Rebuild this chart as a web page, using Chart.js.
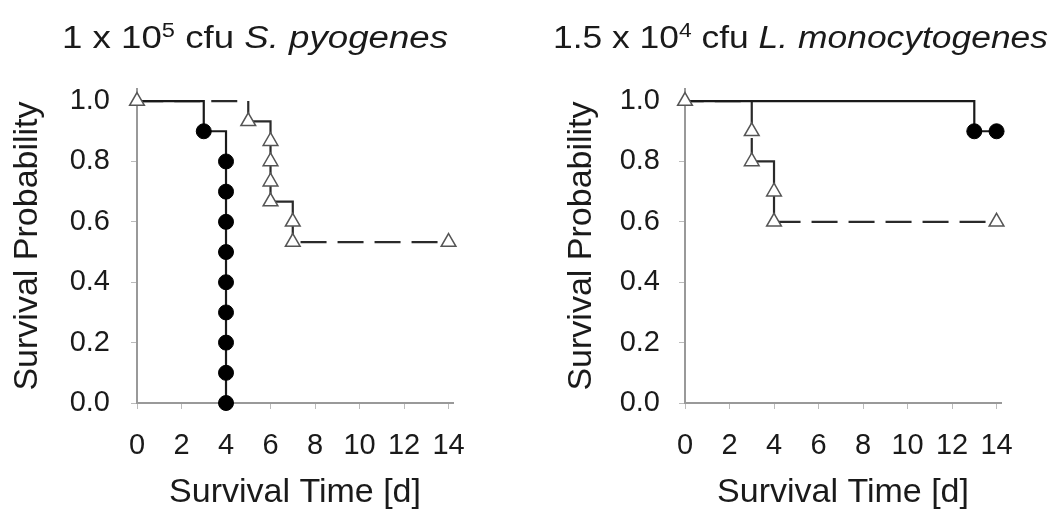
<!DOCTYPE html>
<html>
<head>
<meta charset="utf-8">
<title>Survival curves</title>
<script src="https://cdn.jsdelivr.net/npm/chart.js@4.4.1/dist/chart.umd.min.js"></script>
<style>
  html, body { margin: 0; background: #fff; }
  #wrap { position: relative; width: 1056px; height: 513px; }
  canvas { position: absolute; top: 0; }
</style>
</head>
<body>
<div id="wrap">
  <canvas id="leftChart" width="528" height="513" style="left:0"></canvas>
  <canvas id="rightChart" width="528" height="513" style="left:528px"></canvas>
</div>
<script>
// axis ticks
const dayTicks = [0, 2, 4, 6, 8, 10, 12, 14];
const survTicks = [0, 0.2, 0.4, 0.6, 0.8, 1.0];

// S. pyogenes panel: filled circles (solid) and open triangles (dashed)
const spyoCircleTimes = [0, 3, 4];
const spyoCircleSurv = [1.0, 0.9, 0.0];
const spyoCircleMarkTimes = [3, 4, 4, 4, 4, 4, 4, 4, 4, 4];
const spyoCircleMarkSurv = [0.9, 0.8, 0.7, 0.6, 0.5, 0.4, 0.3, 0.2, 0.1, 0.0];
const spyoTriTimes = [0, 5, 6, 7, 14];
const spyoTriSurv = [1.0, 0.933, 0.667, 0.533, 0.533];
const spyoTriMarkTimes = [0, 5, 6, 6, 6, 6, 7, 7, 14];
const spyoTriMarkSurv = [1.0, 0.933, 0.867, 0.8, 0.733, 0.667, 0.6, 0.533, 0.533];

// L. monocytogenes panel
const lmonoCircleTimes = [0, 13, 14];
const lmonoCircleSurv = [1.0, 0.9, 0.9];
const lmonoCircleMarkTimes = [13, 14];
const lmonoCircleMarkSurv = [0.9, 0.9];
const lmonoTriTimes = [0, 3, 4, 14];
const lmonoTriSurv = [1.0, 0.8, 0.6, 0.6];
const lmonoTriMarkTimes = [0, 3, 3, 4, 4, 14];
const lmonoTriMarkSurv = [1.0, 0.9, 0.8, 0.7, 0.6, 0.6];

const FONT = "'Liberation Sans', Arial, Helvetica, sans-serif";
const INK = '#1a1a1a';
const DASH = [26, 11];
const DASH_PERIOD = DASH[0] + DASH[1];

function pts(xs, ys) {
  return xs.map((x, i) => ({ x: x, y: ys[i] }));
}

function isLong(c) {
  return c.p1.parsed.x - c.p0.parsed.x > 1.5;
}

// draws the panel heading with superscript and italic parts
const headingPlugin = {
  id: 'heading',
  afterDraw(chart, args, opts) {
    const ctx = chart.ctx;
    const runs = opts.runs;
    const size = 31, supSize = 20;
    ctx.save();
    let w = 0;
    runs.forEach(r => {
      ctx.font = (r.it ? 'italic ' : '') + (r.sup ? supSize : size) + 'px ' + FONT;
      r.w = ctx.measureText(r.t).width;
      w += r.w;
    });
    ctx.translate(opts.x, opts.y);
    ctx.scale(opts.width / w, 1);
    ctx.fillStyle = INK;
    ctx.textBaseline = 'alphabetic';
    let x = 0;
    runs.forEach(r => {
      ctx.font = (r.it ? 'italic ' : '') + (r.sup ? supSize : size) + 'px ' + FONT;
      ctx.fillText(r.t, x, r.sup ? -11 : 0);
      x += r.w;
    });
    ctx.restore();
  }
};

function makePanel(id, d, lay) {
  return new Chart(document.getElementById(id), {
    type: 'line',
    data: {
      datasets: [
        {
          data: pts(d.cMarkX, d.cMarkY), showLine: false,
          pointStyle: 'circle', pointRadius: 7.5,
          pointBackgroundColor: '#000', pointBorderColor: '#000', pointBorderWidth: 1,
          clip: false
        },
        {
          data: pts(d.tMarkX, d.tMarkY), showLine: false,
          pointStyle: 'triangle', pointRadius: 8.5,
          pointBackgroundColor: '#fff', pointBorderColor: '#555', pointBorderWidth: 1.5,
          clip: false
        },
        {
          data: pts(d.cX, d.cY), stepped: true, pointRadius: 0,
          borderColor: INK, borderWidth: 2.2, fill: false, clip: false
        },
        {
          data: pts(d.tX, d.tY), stepped: true, pointRadius: 0,
          borderColor: '#2a2a2a', borderWidth: 2.2, fill: false, clip: false,
          // long runs are dashed (ending on a full dash so the drop stays solid), short steps solid
          segment: {
            borderDash: c => (isLong(c) ? DASH : []),
            borderDashOffset: c => {
              if (!isLong(c)) return 0;
              const h = c.p1.x - c.p0.x;
              return (DASH_PERIOD - (h % DASH_PERIOD)) % DASH_PERIOD;
            }
          }
        }
      ]
    },
    options: {
      responsive: false,
      animation: false,
      layout: { padding: { top: 89, right: lay.padRight, bottom: 0, left: 0 } },
      plugins: {
        legend: { display: false },
        tooltip: { enabled: false },
        heading: { runs: lay.heading, x: lay.headX, y: 48, width: lay.headW }
      },
      scales: {
        x: {
          type: 'linear', min: 0, max: 14.2,
          afterBuildTicks: s => { s.ticks = dayTicks.map(v => ({ value: v })); },
          afterFit: s => { s.height = 110; },
          ticks: { color: INK, font: { family: FONT, size: 29 }, padding: 20, maxRotation: 0,
                   callback: v => String(v) },
          grid: { drawOnChartArea: false, drawTicks: true, tickLength: 6, color: '#bbb' },
          border: { display: true, color: '#999', width: 2 },
          title: { display: true, text: 'Survival Time [d]', color: INK,
                   font: { family: FONT, size: 34 }, padding: { top: 0, bottom: 0 } }
        },
        y: {
          type: 'linear', min: 0, max: 1.04,
          afterBuildTicks: s => { s.ticks = survTicks.map(v => ({ value: v })); },
          afterFit: s => { s.width = lay.yWidth; },
          ticks: { color: INK, font: { family: FONT, size: 29 }, padding: lay.tickPad,
                   callback: v => v.toFixed(1) },
          grid: { drawOnChartArea: false, drawTicks: true, tickLength: 6, color: '#bbb' },
          border: { display: true, color: '#999', width: 2 },
          title: { display: true, text: 'Survival Probability', color: INK,
                   font: { family: FONT, size: 34 }, padding: { top: lay.titlePad, bottom: 0 } }
        }
      }
    },
    plugins: [headingPlugin]
  });
}

makePanel('leftChart', {
  cX: spyoCircleTimes, cY: spyoCircleSurv, cMarkX: spyoCircleMarkTimes, cMarkY: spyoCircleMarkSurv,
  tX: spyoTriTimes, tY: spyoTriSurv, tMarkX: spyoTriMarkTimes, tMarkY: spyoTriMarkSurv
}, {
  padRight: 75, yWidth: 137, tickPad: 21, titlePad: 7,
  headX: 62, headW: 386,
  heading: [{ t: '1 x 10' }, { t: '5', sup: true }, { t: ' cfu ' }, { t: 'S. pyogenes', it: true }]
});

makePanel('rightChart', {
  cX: lmonoCircleTimes, cY: lmonoCircleSurv, cMarkX: lmonoCircleMarkTimes, cMarkY: lmonoCircleMarkSurv,
  tX: lmonoTriTimes, tY: lmonoTriSurv, tMarkX: lmonoTriMarkTimes, tMarkY: lmonoTriMarkSurv
}, {
  padRight: 55, yWidth: 157, tickPad: 19, titlePad: 33,
  headX: 25, headW: 495,
  heading: [{ t: '1.5 x 10' }, { t: '4', sup: true }, { t: ' cfu ' }, { t: 'L. monocytogenes', it: true }]
});
</script>
</body>
</html>
